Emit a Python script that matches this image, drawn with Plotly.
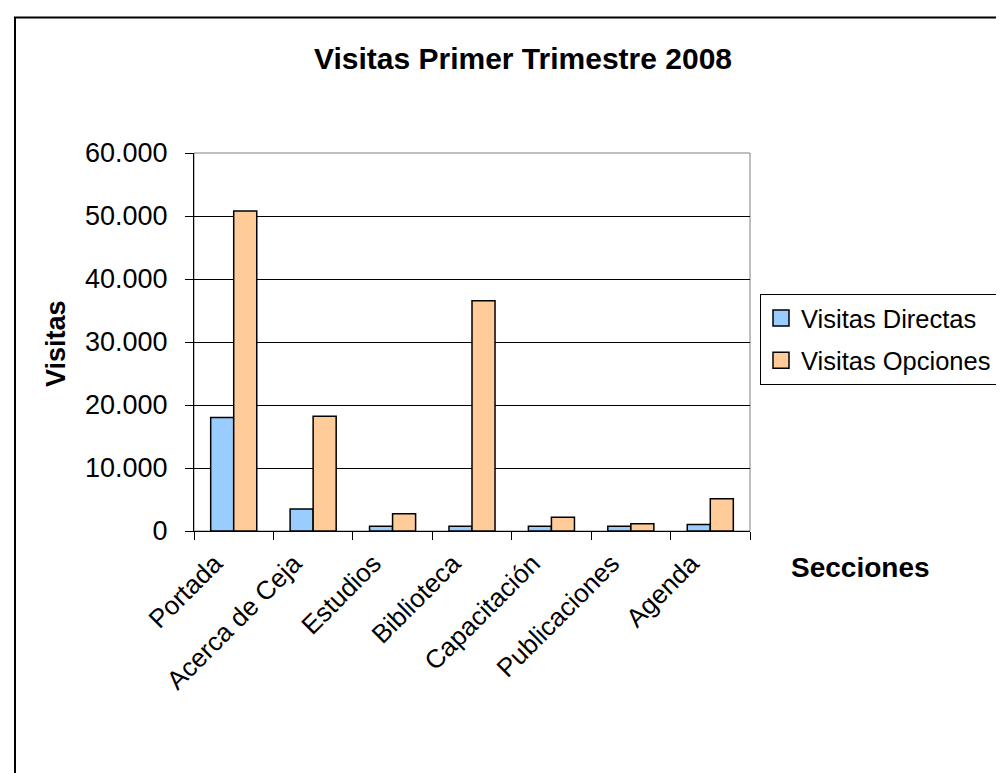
import plotly.graph_objects as go

categories = ["Portada", "Acerca de Ceja", "Estudios", "Biblioteca",
              "Capacitación", "Publicaciones", "Agenda"]
visitas_directas = [18000, 3500, 750, 750, 750, 750, 1050]
visitas_opciones = [50800, 18200, 2750, 36550, 2200, 1150, 5100]
y_ticks = [0, 10000, 20000, 30000, 40000, 50000, 60000]
series_names = ["Visitas Directas", "Visitas Opciones"]
series_colors = ["#99CCFF", "#FFCC99"]

W, H = 1004, 773
L, R, T, B = 186, 742, 145, 523
pw, ph = R - L, B - T

def px(x):
    return (x - L) / pw

def py(y):
    return (B - y) / ph

FONT = "Arial, Liberation Sans, sans-serif"

fig = go.Figure()
for name, vals, col in zip(series_names, [visitas_directas, visitas_opciones], series_colors):
    fig.add_trace(go.Bar(name=name, x=categories, y=vals, legendgroup=name,
                         showlegend=False,
                         marker=dict(color=col, line=dict(color="black", width=1.5))))
# legend entries with larger square swatches
for name, col in zip(series_names, series_colors):
    fig.add_trace(go.Scatter(name=name, x=[None], y=[None], mode="markers",
                             legendgroup=name, showlegend=True,
                             marker=dict(symbol="square", size=16, color=col,
                                         line=dict(color="black", width=1.5))))

fig.update_layout(
    width=W, height=H,
    margin=dict(l=L, r=W - R, t=T, b=H - B, autoexpand=False),
    paper_bgcolor="white", plot_bgcolor="white",
    separators=",.",
    barmode="group", bargap=0.42, bargroupgap=0,
    font=dict(family=FONT, color="black", size=26),
    title=dict(text="<b>Visitas Primer Trimestre 2008</b>", x=515 / W, xref="container",
               xanchor="center", y=1 - 50 / H, yref="container", yanchor="middle",
               font=dict(size=30, family=FONT, color="black")),
    legend=dict(x=px(752), y=py(286), xanchor="left", yanchor="top",
                bordercolor="black", borderwidth=1, bgcolor="white",
                font=dict(size=25.5, family=FONT), tracegroupgap=6,
                itemwidth=30),
    showlegend=True,
)

fig.update_xaxes(
    type="category", tickangle=-45, tickson="boundaries",
    ticks="outside", ticklen=8, tickcolor="black", tickwidth=1,
    showline=True, linecolor="black", linewidth=1, mirror=False,
    showgrid=False, tickfont=dict(size=26, family=FONT),
    ticklabelshift=-19, ticklabelstandoff=6,
)
fig.update_yaxes(
    range=[0, 60000], tickvals=y_ticks, tickformat=",d",
    ticks="outside", ticklen=8, tickcolor="black", tickwidth=1,
    showline=True, linecolor="black", linewidth=1,
    showgrid=True, gridcolor="black", gridwidth=1,
    zeroline=False, tickfont=dict(size=27, family=FONT),
    ticklabelstandoff=12,
)

fig.add_shape(type="rect", xref="paper", yref="paper", x0=0, x1=1, y0=0, y1=1,
              line=dict(color="#808080", width=1), layer="below")
fig.add_shape(type="rect", xref="paper", yref="paper",
              x0=px(7), x1=px(1030), y0=py(800), y1=py(9.5),
              line=dict(color="black", width=2), layer="above")

fig.add_annotation(text="<b>Visitas</b>", xref="paper", yref="paper",
                   x=px(48), y=py(336), textangle=-90, showarrow=False,
                   font=dict(size=27, family=FONT), xanchor="center", yanchor="middle")
fig.add_annotation(text="<b>Secciones</b>", xref="paper", yref="paper",
                   x=px(852), y=py(559), showarrow=False,
                   font=dict(size=28, family=FONT), xanchor="center", yanchor="middle")

fig.write_html("out.html")
